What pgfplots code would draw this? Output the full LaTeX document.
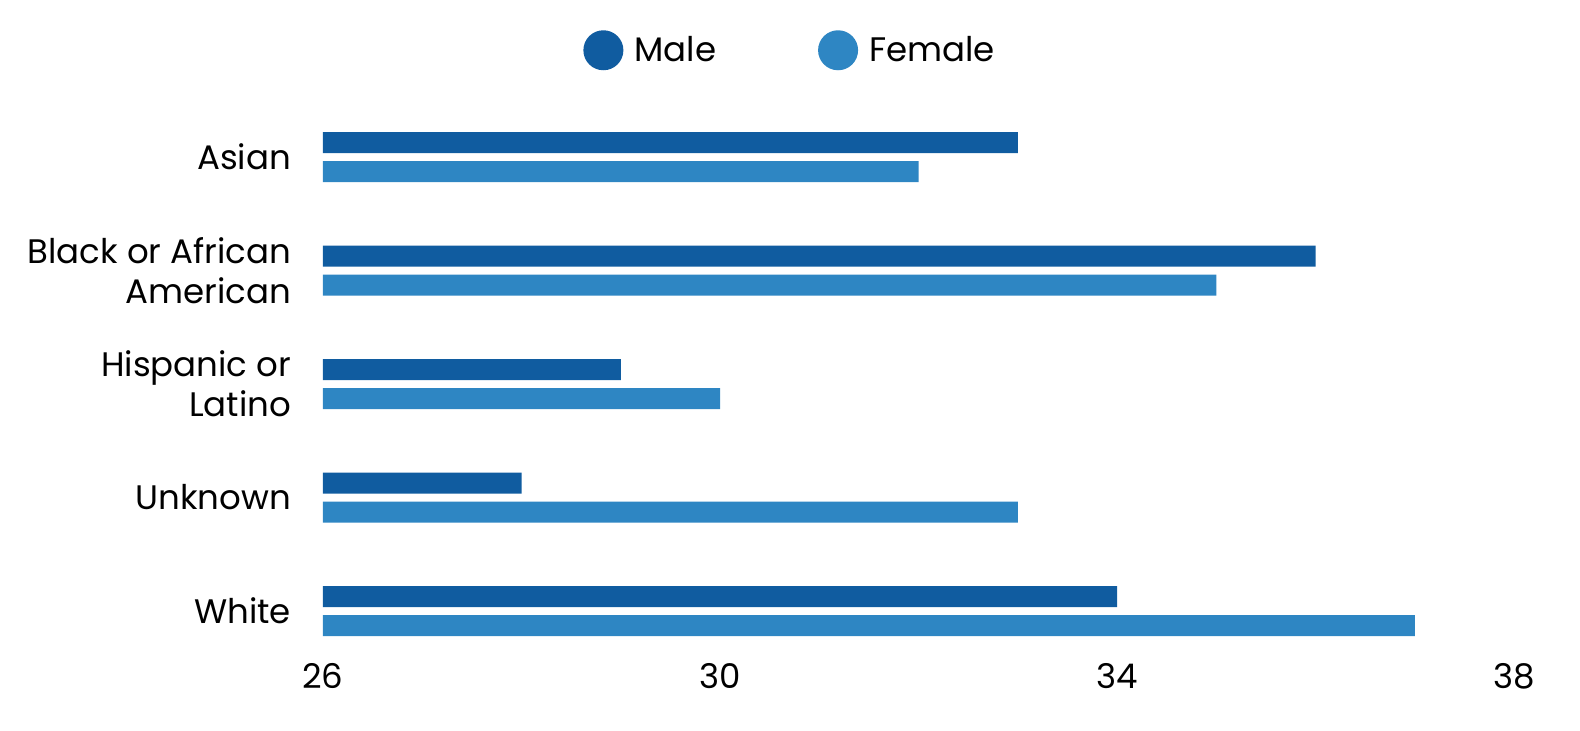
\documentclass[border=0pt]{standalone}
\usepackage{pgfplots}
\pgfplotsset{compat=1.18}
\usepackage{fontspec}
\setmainfont{Poppins}
\definecolor{male}{HTML}{105CA0}
\definecolor{female}{HTML}{2E86C3}

\begin{document}
\begin{tikzpicture}
\useasboundingbox (0,0) rectangle (790pt,365pt);
\begin{scope}[overlay]
\begin{axis}[
    at={(161.5pt,31.125pt)}, anchor=south west,
    scale only axis,
    width=595.5pt, height=283.75pt,
    xbar, bar width=10.5pt,
    xmin=26, xmax=38,
    ymin=-0.5, ymax=4.5,
    xtick={26,30,34,38},
    ytick={0,1,2,3,4},
    yticklabels={White,Unknown,{Hispanic or\\Latino},{Black or African\\American},Asian},
    axis line style={draw=none},
    major tick style={draw=none},
    tick label style={font=\fontsize{17}{20}\selectfont},
    /pgf/number format/assume math mode=true,
    xticklabel style={anchor=base, yshift=-10.5pt},
    yticklabel style={anchor=east, align=right, inner sep=0pt, xshift=-11.5pt},
    legend style={at={(0.393,1)}, anchor=center, yshift=25pt, draw=none,
        legend columns=2, font=\fontsize{17}{20}\selectfont,
        /tikz/every odd column/.append style={column sep=3.5pt},
        /tikz/every even column/.append style={column sep=49pt}},
    legend image code/.code={\fill[#1] (5pt,0pt) circle (10pt);},
]
\addplot[fill=male, draw=none, bar shift=7.25pt] coordinates {
    (34,0) (28,1) (29,2) (36,3) (33,4)
};
\addlegendentry{Male}
\addplot[fill=female, draw=none, bar shift=-7.25pt] coordinates {
    (37,0) (33,1) (30,2) (35,3) (32,4)
};
\addlegendentry{Female}
\end{axis}
\end{scope}
\end{tikzpicture}
\end{document}
